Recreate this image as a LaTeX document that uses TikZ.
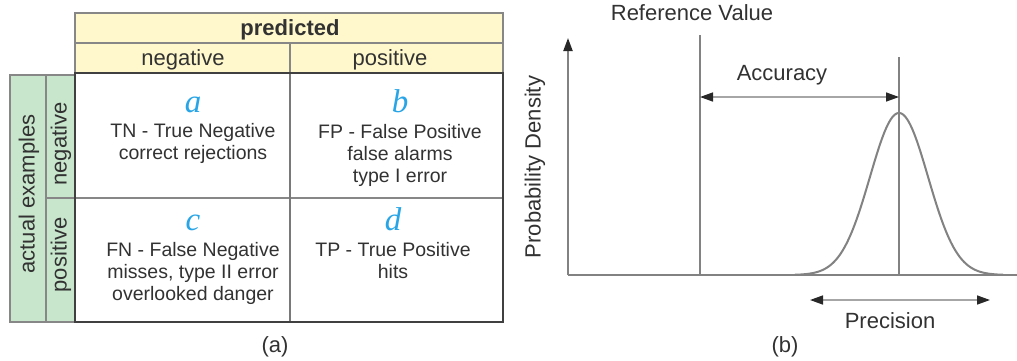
\documentclass[tikz,border=0pt]{standalone}
\usepackage{fontspec}
\setmainfont{Liberation Sans}
\newfontfamily\serifit{Liberation Serif}
\usetikzlibrary{arrows.meta}
\definecolor{hdryellow}{RGB}{255,248,204}
\definecolor{sidegreen}{RGB}{200,230,204}
\definecolor{letterblue}{RGB}{40,165,230}
\definecolor{gridgray}{RGB}{135,135,135}
\definecolor{textgray}{RGB}{50,50,50}
\definecolor{linegray}{RGB}{130,130,130}
\definecolor{tipgray}{RGB}{40,40,40}
\begin{document}
\begin{tikzpicture}[x=1pt,y=-1pt,
  txt/.style={font=\fontsize{19.5}{22}\selectfont, text=textgray, anchor=base, inner sep=0pt},
  hdr/.style={font=\fontsize{22}{26}\selectfont, text=textgray, anchor=base, inner sep=0pt},
  rothdr/.style={font=\fontsize{22}{26}\selectfont, text=textgray, anchor=center, inner sep=0pt, rotate=90},
  letter/.style={font=\fontsize{33}{40}\selectfont\serifit\itshape, text=letterblue, anchor=base, inner sep=0pt},
  cellline/.style={draw=gridgray, line width=1.5pt},
  thickline/.style={draw=gridgray!90!black, line width=2.8pt},
  outer/.style={draw=black!75, line width=2pt},
  axis/.style={draw=linegray, line width=2pt},
  vline/.style={draw=linegray, line width=1.5pt},
  dimarrow/.style={draw=black!35, line width=1.5pt, {Triangle[length=13pt,width=9pt,color=tipgray]}-{Triangle[length=13pt,width=9pt,color=tipgray]}},
  curve/.style={draw=linegray, line width=2pt}
]
\useasboundingbox (0,0) rectangle (1017,360);
\fill[white] (0,0) rectangle (1017,360);

% ---------- table (a) ----------
\fill[hdryellow] (75,13) rectangle (503,73);
\draw[cellline] (75,13) rectangle (503,73);
\draw[cellline] (75,43) -- (503,43);
\draw[cellline] (290,43) -- (290,73);
\fill[sidegreen] (10,75) rectangle (75,322);
\draw[cellline] (10,75) rectangle (75,322);
\draw[cellline] (46,75) -- (46,322);
\draw[cellline] (46,198) -- (75,198);
\fill[white] (75,73) rectangle (503,322);
\draw[cellline] (75,198) -- (503,198);
\draw[thickline] (290,73) -- (290,322);
\draw[outer] (75,73) rectangle (503,322);

\node[hdr, font=\fontsize{22}{26}\selectfont\bfseries] (pred) at (290,35) {predicted};
\node[hdr] (pneg) at (183,65) {negative};
\node[hdr] (ppos) at (390,65) {positive};
\node[rothdr] (actual) at (29,194) {actual examples};
\node[rothdr] (aneg) at (61,144) {negative};
\node[rothdr] (apos) at (61,255) {positive};

\node[letter] (la) at (193,112) {a};
\node[txt] (tn1) at (193,137) {TN - True Negative};
\node[txt] (tn2) at (193,159) {correct rejections};

\node[letter] (lb) at (400,112) {b};
\node[txt] (fp1) at (400,138) {FP - False Positive};
\node[txt] (fp2) at (400,160) {false alarms};
\node[txt] (fp3) at (400,182) {type I error};

\node[letter] (lc) at (193,230) {c};
\node[txt] (fn1) at (193,256) {FN - False Negative};
\node[txt] (fn2) at (193,278) {misses, type II error};
\node[txt] (fn3) at (193,300) {overlooked danger};

\node[letter] (ld) at (393,230) {d};
\node[txt] (tp1) at (393,256) {TP - True Positive};
\node[txt] (tp2) at (393,278) {hits};

\node[hdr] (capa) at (275,352) {(a)};

% ---------- plot (b) ----------
\coordinate (origin) at (568,275);
\coordinate (ytop) at (568,38);
\coordinate (xend) at (1017,275);
\coordinate (reftop) at (700,35);
\coordinate (refbot) at (700,275);
\coordinate (peaktop) at (899,57);
\coordinate (peakbot) at (899,275);
\coordinate (accl) at (700,97);
\coordinate (accr) at (899,97);
\coordinate (precl) at (810,300);
\coordinate (precr) at (990,300);

\draw[axis, -{Triangle[length=13pt,width=9pt,color=tipgray]}] (origin) -- (ytop);
\draw[axis] (origin) -- (xend);
\draw[vline] (reftop) -- (refbot);
\draw[vline] (peaktop) -- (peakbot);
\draw[curve] plot[domain=795:1003, samples=140, smooth] (\x, {275-162*exp(-((\x-899)/29)*((\x-899)/29)/2)});
\draw[dimarrow] (accl) -- (accr);
\draw[dimarrow] (precl) -- (precr);

\node[hdr] (refval) at (692,20) {Reference Value};
\node[hdr] (acc) at (782,80) {Accuracy};
\node[hdr] (prec) at (890,328) {Precision};
\node[rothdr] (pdens) at (535,167) {Probability Density};
\node[hdr] (capb) at (785,352) {(b)};
\end{tikzpicture}
\end{document}
